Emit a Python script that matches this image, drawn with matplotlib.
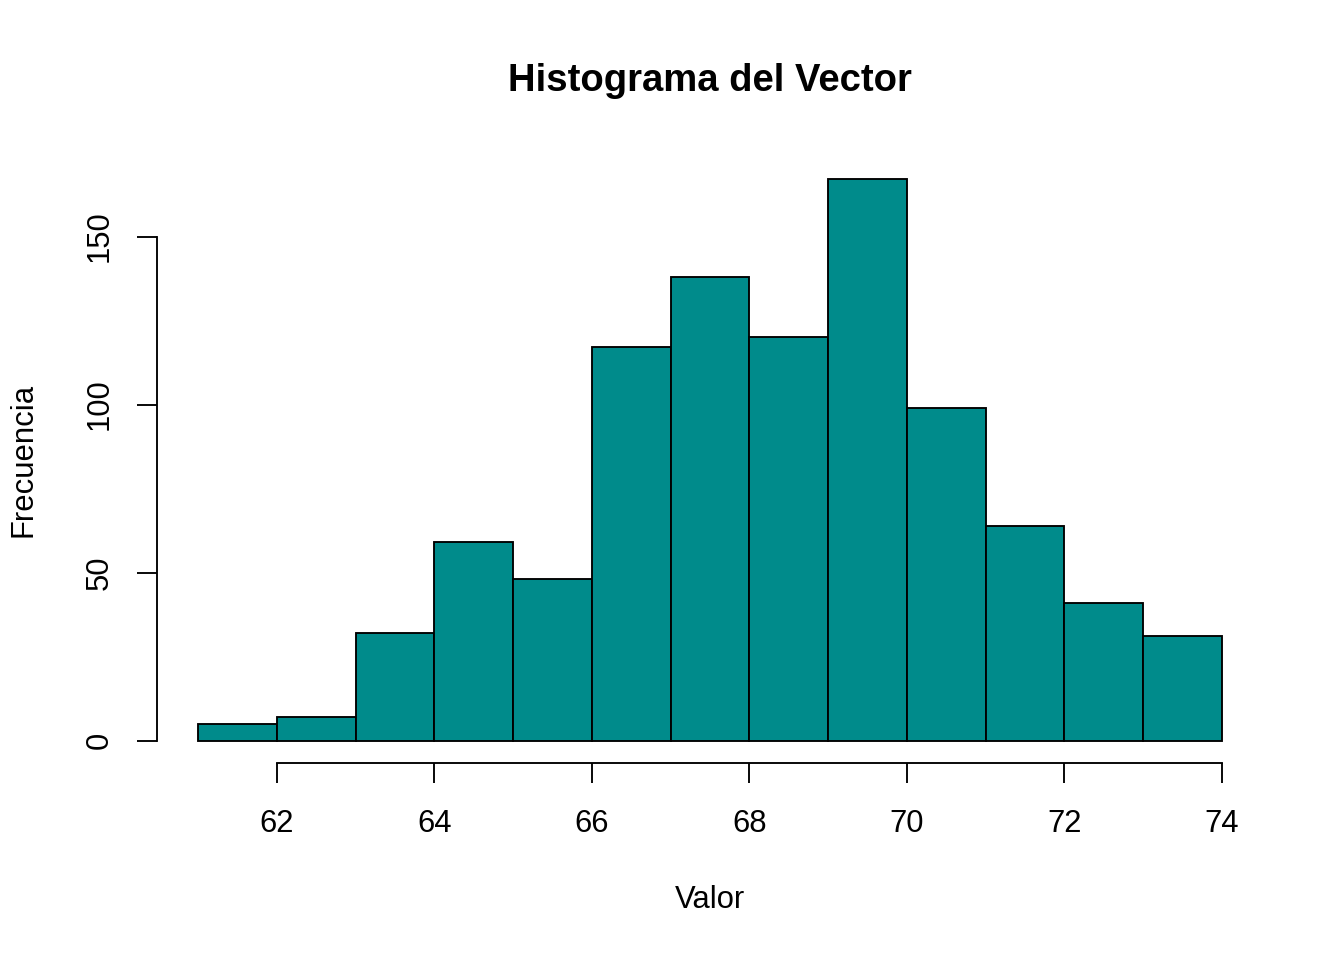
import matplotlib
matplotlib.use('Agg')
import matplotlib.pyplot as plt

# ── data (Galton child heights) ──────────────────────────────────
bin_edges = [61, 62, 63, 64, 65, 66, 67, 68, 69, 70, 71, 72, 73, 74]
counts    = [5, 7, 32, 59, 48, 117, 138, 120, 167, 99, 64, 41, 31]
x_ticks   = [62, 64, 66, 68, 70, 72, 74]
y_ticks   = [0, 50, 100, 150]

BAR_C = '#008B8B'
LW = 1.35

plt.rcParams['font.family'] = ['Liberation Sans', 'DejaVu Sans']

fig = plt.figure(figsize=(13.44, 9.6), dpi=100)
fig.patch.set_facecolor('white')
ax = fig.add_axes([157/1344, 1 - 763/960, (1263-157)/1344, (763-157)/960])

ax.bar(bin_edges[:-1], counts, width=1, align='edge',
       color=BAR_C, edgecolor='black', linewidth=LW)

# R-style 4% padding around data range
lo, hi = bin_edges[0], bin_edges[-1]
pad = 0.04 * (hi - lo)
ax.set_xlim(lo - pad, hi + pad)
ymax = max(counts)
ax.set_ylim(-0.04 * ymax, ymax * 1.04)

for s in ['top', 'right']:
    ax.spines[s].set_visible(False)
ax.spines['left'].set_bounds(y_ticks[0], y_ticks[-1])
ax.spines['bottom'].set_bounds(x_ticks[0], x_ticks[-1])
for s in ['left', 'bottom']:
    ax.spines[s].set_linewidth(LW)

ax.set_xticks(x_ticks)
ax.set_yticks(y_ticks)
ax.set_yticklabels([str(v) for v in y_ticks], rotation=90, va='center')
ax.tick_params(axis='both', length=14.4, width=LW, labelsize=22.3)
ax.tick_params(axis='x', pad=19)
ax.tick_params(axis='y', pad=16)

fig.text(710/1344, 1 - 81/960, 'Histograma del Vector', ha='center', va='center',
         fontsize=27.5, fontweight='bold')
fig.text(710/1344, 1 - 900/960, 'Valor', ha='center', va='center', fontsize=22.3)
fig.text(23/1344, 1 - 460/960, 'Frecuencia', ha='center', va='center',
         rotation=90, fontsize=22.3)

fig.savefig('out.png', dpi=100, facecolor='white')
